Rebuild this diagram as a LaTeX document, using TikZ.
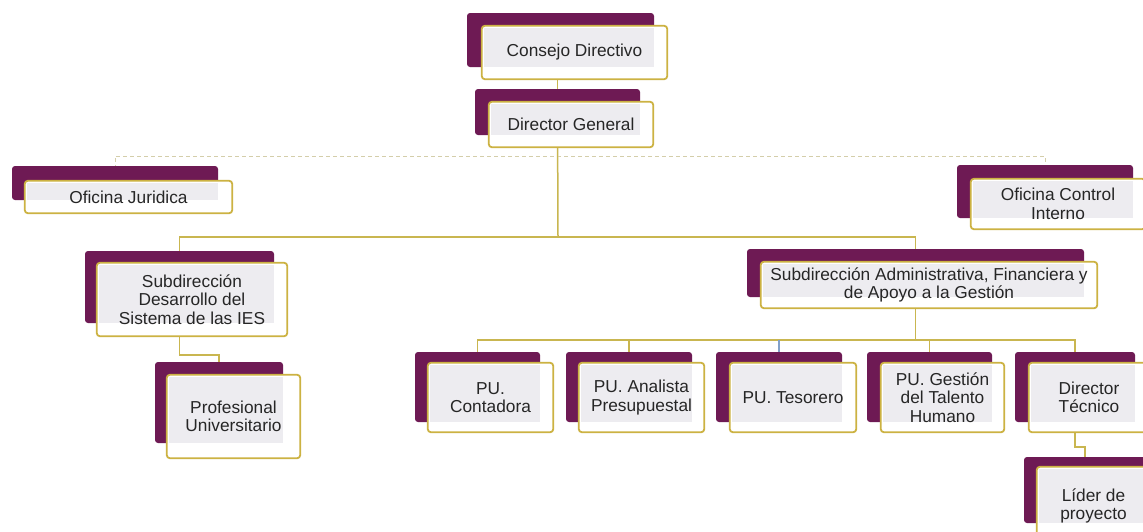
\documentclass[tikz,border=0pt]{standalone}
\usepackage{fontspec}
\setmainfont{Liberation Sans}
\usetikzlibrary{calc,fit}
\pgfdeclarelayer{back}
\pgfdeclarelayer{bg}
\pgfsetlayers{back,bg,main}
\definecolor{purp}{RGB}{110,26,84}
\definecolor{gold}{RGB}{204,178,66}
\definecolor{lin}{RGB}{201,182,80}
\definecolor{innergray}{RGB}{237,236,240}
\definecolor{dsh}{RGB}{212,206,170}
\definecolor{bluel}{RGB}{130,160,200}
\tikzset{
  backbox/.style={inner sep=0pt, fill=purp, rounded corners=3pt},
  frontbox/.style={inner sep=0pt, fill=white, rounded corners=3pt},
  frontline/.style={draw=gold, line width=1.8pt, rounded corners=3pt},
  txt/.style={align=center, inner sep=0pt, text=black!85, font=\fontsize{17.3}{18.5}\selectfont},
  conn/.style={draw=lin, line width=1.5pt},
  dconn/.style={draw=dsh, line width=1pt, dash pattern=on 4pt off 3pt},
}
\newcommand\orgbox[6]{%
  \node[backbox, fit={(#2)(#3)}] (#1) {};
  \node[frontbox, fit={(#4)(#5)}] (#1f) {};
  \fill[innergray] ($(#1f.north west)+(2,2)$) rectangle (#1.south east);
  \draw[frontline] (#1f.north west) rectangle (#1f.south east);
  \node[txt] (#1t) at (#1f.center) {#6};
}
\begin{document}
\begin{tikzpicture}[x=1pt,y=-1pt]
\begin{pgfonlayer}{back}
\fill[white] (0,0) rectangle (1143,531);
\end{pgfonlayer}
\useasboundingbox (0,0) rectangle (1143,531);

\orgbox{cd}{467,13}{654,67}{482,26}{667,79}{Consejo Directivo}
\orgbox{dg}{475,89}{640,135}{489,102}{653,147}{Director General}
\orgbox{oj}{12,166}{218,200}{25,181}{232,213}{Oficina Juridica}
\orgbox{oc}{957,165}{1133,218}{971,179}{1145,229}{Oficina Control\\Interno}
\orgbox{sd}{85,251}{274,323}{97,263}{287,336}{Subdirección\\Desarrollo del\\Sistema de las IES}
\orgbox{pu}{155,362}{283,443}{167,375}{300,458}{Profesional\\Universitario}
\orgbox{sa}{747,249}{1084,297}{761,262}{1097,308}{Subdirección Administrativa, Financiera y\\de Apoyo a la Gestión}
\orgbox{pa}{415,352}{540,422}{428,363}{553,432}{PU.\\Contadora}
\orgbox{pb}{566,352}{692,422}{579,363}{704,432}{PU. Analista\\Presupuestal}
\orgbox{pc}{716,352}{842,422}{730,363}{856,432}{PU. Tesorero}
\orgbox{pd}{867,352}{992,422}{881,363}{1004,432}{PU. Gestión\\del Talento\\Humano}
\orgbox{dt}{1015,352}{1135,422}{1029,363}{1149,432}{Director\\Técnico}
\orgbox{ld}{1024,457}{1146,523}{1037,467}{1150,545}{Líder de\\proyecto}

\begin{pgfonlayer}{bg}
  \coordinate (busA) at (558,156);
  \coordinate (busB) at (558,237);
  \coordinate (busC) at (916,340);
  \draw[conn] (dg.center |- cd.center) -- (dg.center);
  \draw[dconn] (oj.center) |- (busA) -| (oc.center);
  \draw[conn] (dg.center) -- (busB);
  \draw[conn] (sd.center) |- (busB) -| (sa.center);
  \draw[conn] (sd.center) -- ($(sd.center |- busB)+(0,118)$) -| (pu.center);
  \draw[conn] (sa.center) -- (sa.center |- busC);
  \draw[conn] (pa.center) |- (dt.center |- busC) -- (dt.center);
  \draw[conn] (pb.center) -- (pb.center |- busC);
  \draw[draw=bluel, line width=1.2pt] (pc.center) -- (pc.center |- busC);
  \draw[conn] (pd.center) -- (pd.center |- busC);
  \draw[conn] (dt.center) -- ($(dt.center |- busC)+(0,107)$) -| (ld.center);
\end{pgfonlayer}
\end{tikzpicture}
\end{document}
